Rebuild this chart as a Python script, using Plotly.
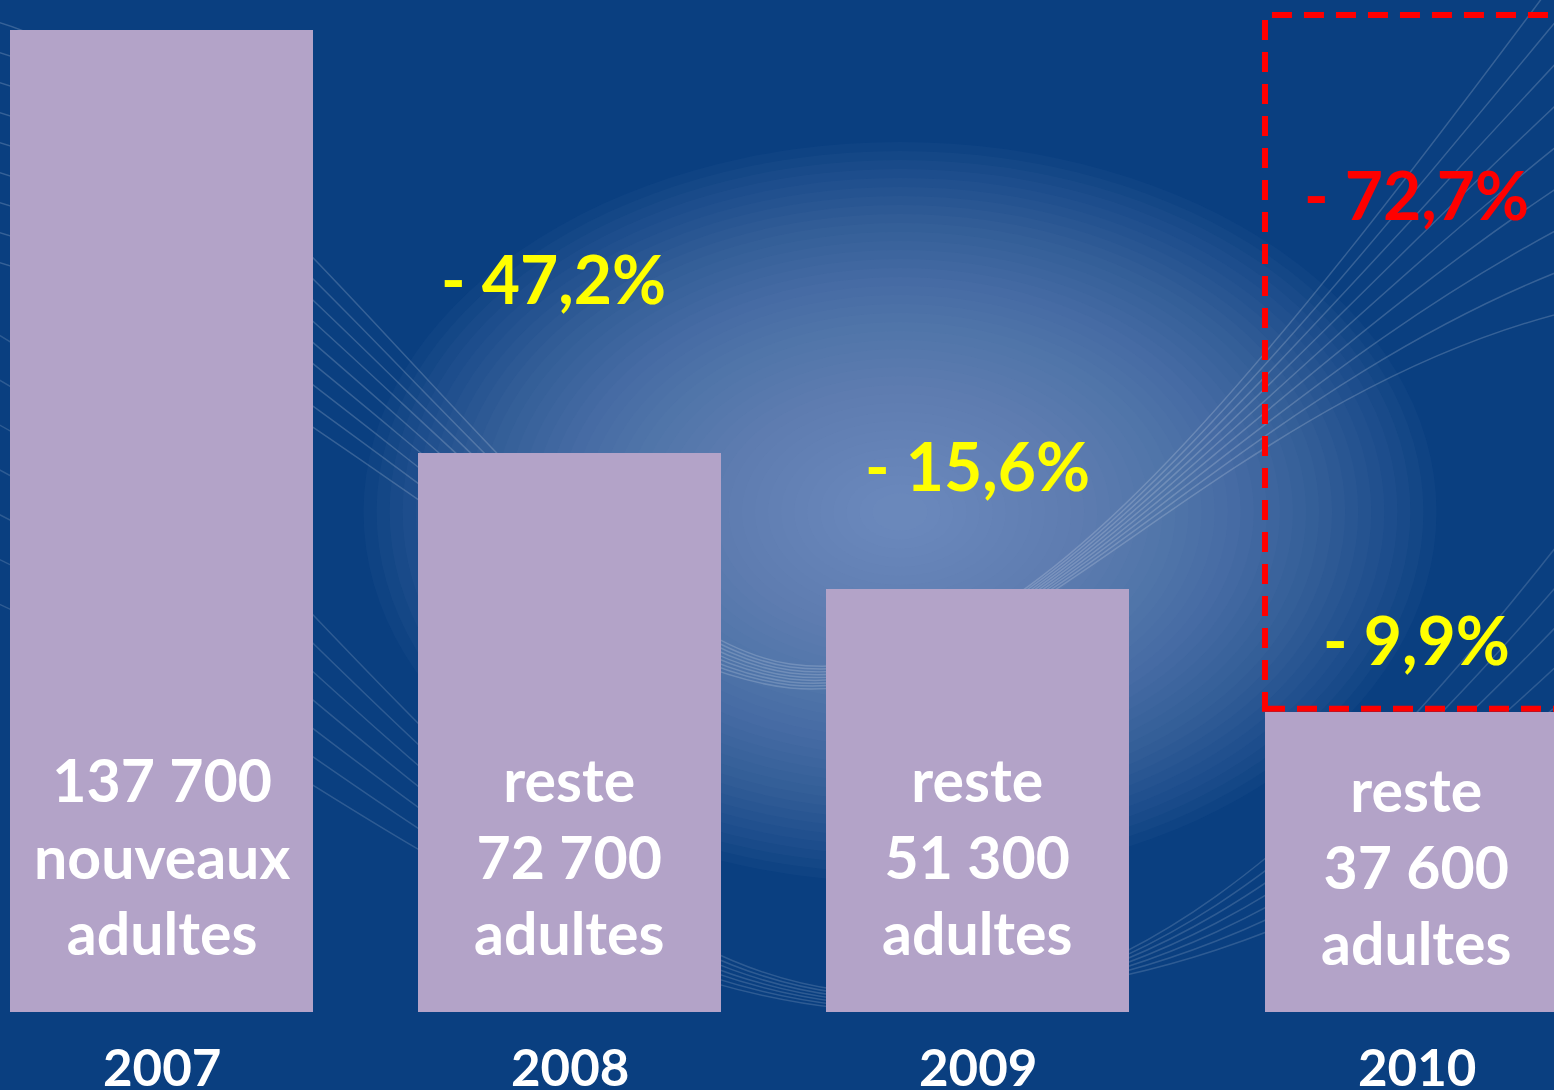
import plotly.graph_objects as go

# values
years = ["2007", "2008", "2009", "2010"]
counts = ["137 700", "72 700", "51 300", "37 600"]
count_words = ["nouveaux<br>adultes", "adultes", "adultes", "adultes"]
count_prefix = ["", "reste<br>", "reste<br>", "reste<br>"]
# drawn bar heights (the slide does not draw them to scale)
bar_heights = [137700, 78400, 59300, 42100]
changes = ["- 47,2%", "- 15,6%", "- 9,9%"]
total_change = "- 72,7%"

W, H = 1554, 1090
BAR = "#B3A3C8"
YELLOW = "#FFFF00"
FONT = "Lato"

px_per_unit = 982 / 137700
y_top = 1012 / px_per_unit
y_bot = -(H - 1012) / px_per_unit
x_lo, x_hi = (0 - 161.5) / 408, (W - 161.5) / 408
bar_w = 303 / 408
last_shift = 31 / 408

fig = go.Figure(go.Bar(
    x=list(range(len(years))), y=bar_heights,
    width=bar_w, offset=[-bar_w / 2] * 3 + [-bar_w / 2 + last_shift],
    marker=dict(color=BAR, line=dict(width=0)),
    hoverinfo="skip",
))


def px(x, y):
    return f"{x / W:.4f},{1 - y / H:.4f}"


shapes = []
# radial glow in the background
cx, cy = 900, 512
n = 40
for i in range(n):
    r = 370 - i * 9
    shapes.append(dict(
        type="circle", xref="paper", yref="paper", layer="below",
        x0=(cx - 1.45 * r) / W, x1=(cx + 1.45 * r) / W,
        y0=1 - (cy + r) / H, y1=1 - (cy - r) / H,
        fillcolor="rgba(135,162,212,0.042)", line=dict(width=0),
    ))

# faint wavy lines
for i in range(9):
    d = (f"M {px(-10, 20 + 30 * i)} C {px(260, 90 + 30 * i)} {px(560, 630 + 4 * i)} "
         f"{px(790, 664 + 3 * i)} C {px(1010, 694 + 2 * i)} {px(1230, 420 - 5 * i)} "
         f"{px(1600, -80 + 48 * i)}")
    shapes.append(dict(type="path", xref="paper", yref="paper", layer="below", path=d,
                       line=dict(color="rgba(255,255,255,0.18)", width=1.5)))
for i in range(7):
    d = (f"M {px(-10, 330 + 45 * i)} C {px(260, 480 + 40 * i)} {px(520, 950 + 4 * i)} "
         f"{px(840, 990 + 3 * i)} C {px(1110, 1020 + 2 * i)} {px(1320, 930 - 12 * i)} "
         f"{px(1600, 760 - 45 * i)}")
    shapes.append(dict(type="path", xref="paper", yref="paper", layer="below", path=d,
                       line=dict(color="rgba(255,255,255,0.15)", width=1.5)))

# red dashed box around 2010
shapes.append(dict(
    type="rect", xref="x", yref="y", layer="above",
    x0=3 - bar_w / 2 + last_shift, x1=x_hi + 0.2,
    y0=bar_heights[3] + 3 / px_per_unit, y1=bar_heights[0] + 15 / px_per_unit,
    line=dict(color="#FF0000", width=6, dash="20px,12px"),
))

annotations = []
for i, year in enumerate(years):
    xs = 31 if i == 3 else 0
    annotations.append(dict(
        x=i, y=0, xref="x", yref="y", xshift=xs, yanchor="bottom",
        yshift=32 if i == 3 else 42,
        text=count_prefix[i] + counts[i] + "<br>" + count_words[i],
        showarrow=False, align="center",
        font=dict(family=FONT, size=59, color="white", weight="bold"),
    ))
    annotations.append(dict(
        x=i, y=0, xref="x", yref="y", xshift=xs, yanchor="top", yshift=-22,
        text=year, showarrow=False,
        font=dict(family=FONT, size=51, color="white", weight="bold"),
    ))

change_shift = [174, 124, 72]
change_xshift = [-16, 0, 31]
for k, txt in enumerate(changes):
    i = k + 1
    annotations.append(dict(
        x=i, y=bar_heights[i], xref="x", yref="y", yanchor="middle",
        xshift=change_xshift[k], yshift=change_shift[k], text=txt, showarrow=False,
        font=dict(family=FONT, size=66, color=YELLOW, weight="bold"),
    ))
annotations.append(dict(
    x=3, y=bar_heights[0], xref="x", yref="y", yanchor="middle",
    xshift=31, yshift=-(194 - 30), text=total_change, showarrow=False,
    font=dict(family=FONT, size=66, color="#FF0000", weight="bold"),
))

fig.update_layout(
    width=W, height=H, margin=dict(l=0, r=0, t=0, b=0),
    paper_bgcolor="#0A3F80", plot_bgcolor="rgba(0,0,0,0)",
    shapes=shapes, annotations=annotations, showlegend=False,
    xaxis=dict(range=[x_lo, x_hi], visible=False, fixedrange=True),
    yaxis=dict(range=[y_bot, y_top], visible=False, fixedrange=True),
    bargap=0,
)

# drop the default page margin so the slide fills the window
fig.write_html(
    "out.html",
    config={"displayModeBar": False},
    post_script="document.body.style.margin='0';document.body.style.overflow='hidden';",
)
